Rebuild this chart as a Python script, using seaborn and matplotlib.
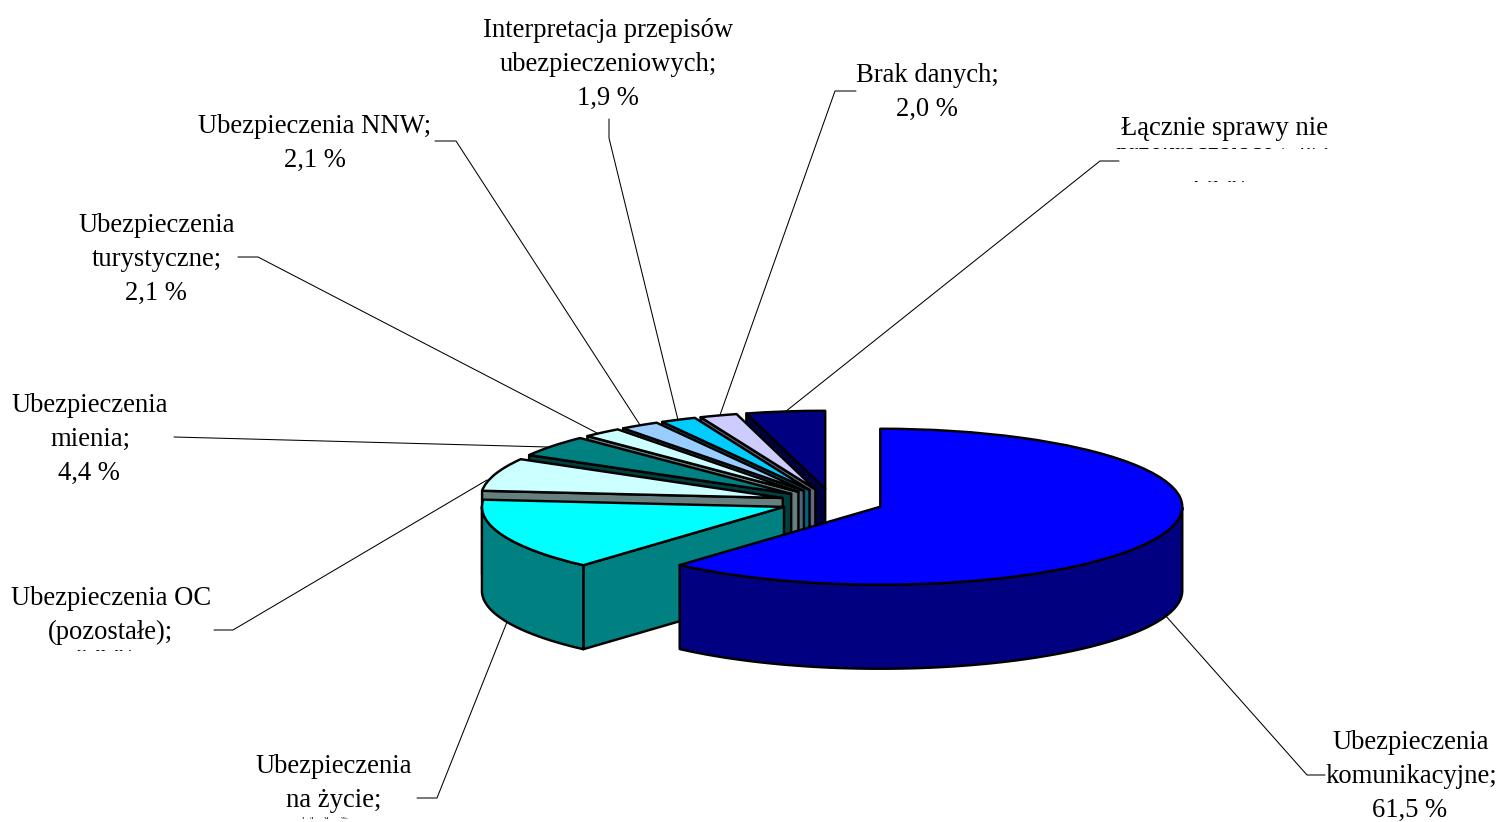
import numpy as np
import matplotlib
matplotlib.use('Agg')
import matplotlib.pyplot as plt
from matplotlib.colors import to_rgb
from matplotlib.patches import Rectangle
import seaborn as sns

# values, the clipped labels are estimates from the slice angles
categories = ['Ubezpieczenia komunikacyjne', 'Ubezpieczenia na życie', 'Ubezpieczenia OC (pozostałe)',
              'Ubezpieczenia mienia', 'Ubezpieczenia turystyczne', 'Ubezpieczenia NNW',
              'Interpretacja przepisów ubezpieczeniowych', 'Brak danych', 'Łącznie sprawy nie przekraczające 5 %']
shares = [61.5, 14.9, 6.8, 4.4, 2.1, 2.1, 1.9, 2.0, 4.2]
top_colors = ['#0000FF', '#00FFFF', '#CCFFFF', '#008080', '#CCFFFF', '#99CCFF', '#00CCFF', '#CCCCFF', '#000080']

# text lines: (centre x, baseline y, text)
label_lines = [
    (1411, 749, 'Ubezpieczenia'), (1411, 783, 'komunikacyjne;'), (1410, 817, '61,5 %'),
    (334, 773, 'Ubezpieczenia'), (334, 807, 'na życie;'),
    (111, 605, 'Ubezpieczenia OC'), (110, 639, '(pozostałe);'),
    (90, 412, 'Ubezpieczenia'), (90, 446, 'mienia;'), (89, 480, '4,4 %'),
    (157, 232, 'Ubezpieczenia'), (157, 266, 'turystyczne;'), (156, 300, '2,1 %'),
    (315, 133, 'Ubezpieczenia NNW;'), (315, 167, '2,1 %'),
    (608, 37, 'Interpretacja przepisów'), (608, 71, 'ubezpieczeniowych;'), (608, 105, '1,9 %'),
    (927, 82, 'Brak danych;'), (927, 116, '2,0 %'),
    (1225, 135, 'Łącznie sprawy nie'),
]
# lines that are cut off in the original: (centre x, baseline y, clip top, clip bottom, size, text)
clipped_lines = [
    (1223, 161, 148, 149, 19.15, 'przekraczające 5 %;'),
    (1218, 198, 181, 182, 19.15, '4,2 %'),
    (105, 667, 650, 651, 19.15, '6,8 %'),
    (325, 821, 817, 819, 6, '1  4  ,  9      %'),
]
leaders = [
    ([1325, 1307, 1165], [775, 775, 615]),
    ([417, 437, 507], [798, 798, 622]),
    ([214, 233, 487], [630, 630, 480]),
    ([174, 548], [437, 447]),
    ([238, 258, 597], [257, 257, 433]),
    ([435, 456, 640], [141, 141, 425]),
    ([609, 609, 678], [119, 138, 420]),
    ([856, 835, 720], [91, 91, 415]),
    ([1119, 1100, 785], [161, 161, 412]),
]

W, H = 1499, 822
RX, RY = 302.0, 78.0  # pixel size of one pie radius
CX, CY = 832.0, 502.0  # pixel centre before the slices are pulled out
DEPTH = 84.0 / RY
EXPLODE = 0.171
EDGE = 1.75

sns.set_theme(style='white', rc={'font.family': ['Liberation Serif', 'DejaVu Serif']})
palette = sns.color_palette(top_colors)
wall_colors = [tuple(np.array(to_rgb(c)) / 2) for c in top_colors]

fig = plt.figure(figsize=(W / 100, H / 100), dpi=100)
ax = fig.add_axes([0, 0, 1, 1])
wedges, _ = ax.pie(shares, explode=[EXPLODE] * len(shares), colors=palette, startangle=90,
                   counterclock=False, radius=1,
                   wedgeprops={'edgecolor': 'black', 'linewidth': EDGE, 'joinstyle': 'round'})
ax.set_aspect('auto')
ax.set_xlim(-CX / RX, (W - CX) / RX)
ax.set_ylim((CY - H) / RY, CY / RY)
ax.axis('off')


def draw_walls(wedge, color, z):
    x0, y0 = wedge.center
    t1, t2 = wedge.theta1, wedge.theta2
    style = dict(facecolor=color, edgecolor='black', linewidth=EDGE, joinstyle='round')
    # flat cut faces that look towards the viewer
    for t, seen in ((t1, np.cos(np.radians(t1)) > 1e-6), (t2, np.cos(np.radians(t2)) < -1e-6)):
        if seen:
            xr, yr = x0 + np.cos(np.radians(t)), y0 + np.sin(np.radians(t))
            ax.fill([x0, xr, xr, x0], [y0, yr, yr - DEPTH, y0 - DEPTH], zorder=z, **style)
    # outer rim, only the front half
    t = np.radians(np.linspace(t1, t2, 400))
    t = t[np.sin(t) <= 0]
    if len(t) > 1:
        xr, yr = x0 + np.cos(t), y0 + np.sin(t)
        ax.fill(np.r_[xr, xr[::-1]], np.r_[yr, yr[::-1] - DEPTH], zorder=z + 1, **style)


# back slices first, the big front slice last
for i in range(len(wedges) - 1, -1, -1):
    z = 10 + 3 * (len(wedges) - i)
    draw_walls(wedges[i], wall_colors[i], z)
    wedges[i].set_zorder(z + 2)

# labels and leader lines in pixel coordinates
over = fig.add_axes([0, 0, 1, 1], zorder=5)
over.set_xlim(0, W)
over.set_ylim(H, 0)
over.axis('off')
over.patch.set_alpha(0)

for xs, ys in leaders:
    over.plot(xs, ys, color='black', lw=0.75, solid_joinstyle='miter')

FS = 19.15
for x, y, s in label_lines:
    over.text(x, y, s, ha='center', va='baseline', fontsize=FS, color='black')
for x, y, top, bottom, size, s in clipped_lines:
    t = over.text(x, y, s, ha='center', va='baseline', fontsize=size, color='black')
    t.set_clip_path(Rectangle((0, top), W, bottom - top, transform=over.transData))
    t.set_clip_on(True)

fig.savefig('out.png', dpi=100, facecolor='white')
